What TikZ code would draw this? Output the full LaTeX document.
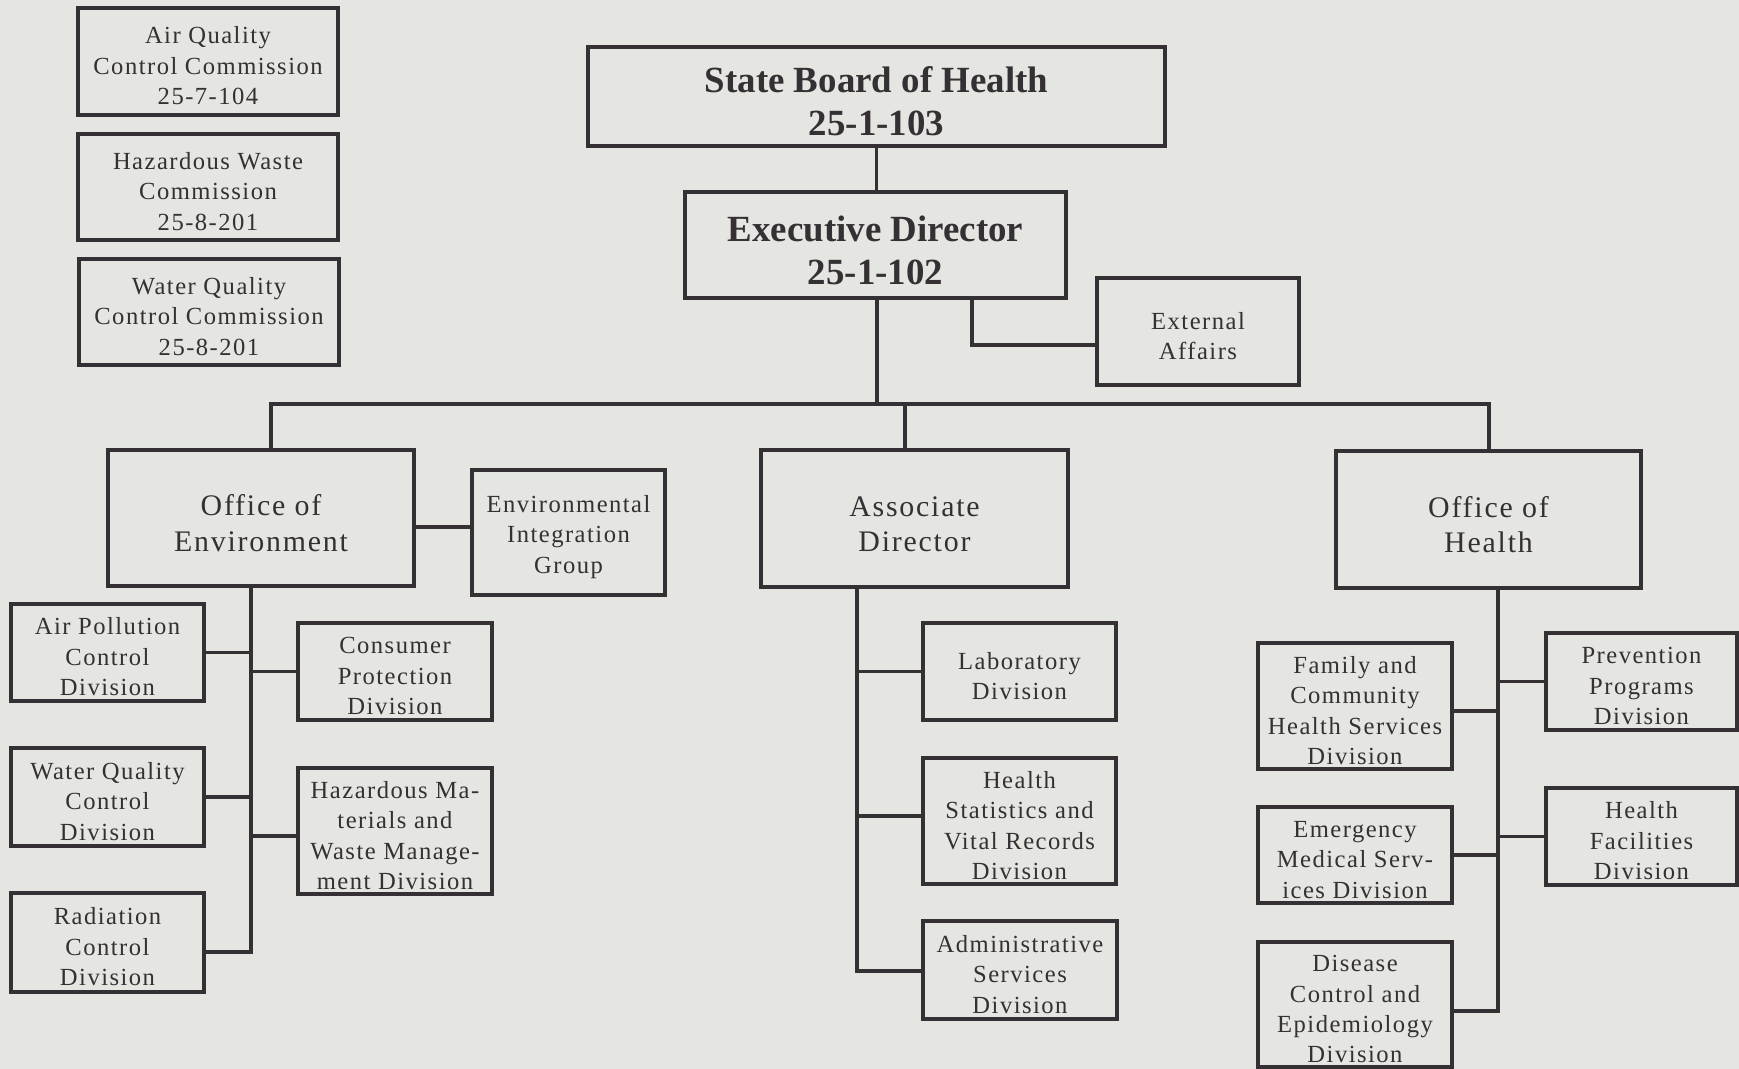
\documentclass[tikz,border=0pt]{standalone}
\usepackage{fontspec}
\setmainfont{Liberation Serif}[LetterSpace=6]
\usepackage{tikz}
\definecolor{ink}{RGB}{52,48,51}
\definecolor{paper}{RGB}{229,229,225}
\tikzstyle{every node}=[draw=ink,line width=1.9pt,text=ink,align=center,inner sep=0pt]
\tikzset{
    board/.style={
                font=\fontsize{21}{24.5}\selectfont\bfseries\addfontfeature{LetterSpace=0},
                text height=44.7pt
            },
        office/.style={
                font=\fontsize{17}{20.3}\selectfont,
                text height=38.2pt
            },
        division/.style={
                font=\fontsize{14}{17.3}\selectfont
            },
        lines2/.style={text height=32pt},
        lines3/.style={text height=49.3pt},
        lines4/.style={text height=66.6pt},
        link/.style={
                draw=ink,
                line width=1.8pt
            },
}
\begin{document}
\begin{tikzpicture}[x=0.02cm,y=-0.02cm]
  % Paper
  \fill[paper] (0,0) rectangle (1739,1069);
  % Commissions
  \node[division,lines3,minimum width=5.2cm,minimum height=2.14cm] (aqcc) at (208,61.5) {Air Quality\\Control Commission\\25-7-104};
  \node[division,lines3,minimum width=5.2cm,minimum height=2.12cm] (hwc) at (208,187) {Hazardous Waste\\Commission\\25-8-201};
  \node[division,lines3,minimum width=5.2cm,minimum height=2.12cm] (wqcc) at (209,312) {Water Quality\\Control Commission\\25-8-201};
  % Board and Director
  \node[board,minimum width=11.54cm,minimum height=1.98cm] (board) at (876.5,96.5) {State Board of Health\\25-1-103};
  \node[board,minimum width=7.62cm,minimum height=2.12cm] (exec) at (875.5,245) {Executive Director\\25-1-102};
  \node[division,lines2,minimum width=4.04cm,minimum height=2.14cm] (extaff) at (1198,331.5) {External\\Affairs};
  % Offices
  \node[office,minimum width=6.12cm,minimum height=2.72cm] (offenv) at (261,518) {Office of\\Environment};
  \node[division,lines3,minimum width=3.86cm,minimum height=2.5cm] (eig) at (568.5,532.5) {Environmental\\Integration\\Group};
  \node[office,minimum width=6.14cm,minimum height=2.74cm] (assoc) at (914.5,518.5) {Associate\\Director};
  \node[office,minimum width=6.1cm,minimum height=2.74cm] (offhealth) at (1488.5,519.5) {Office of\\Health};
  % Environment divisions
  \node[division,lines3,minimum width=3.86cm,minimum height=1.94cm] (airpol) at (107.5,652.5) {Air Pollution\\Control\\Division};
  \node[division,lines3,minimum width=3.88cm,minimum height=1.94cm] (consumer) at (395,671.5) {Consumer\\Protection\\Division};
  \node[division,lines3,minimum width=3.86cm,minimum height=1.96cm] (wqdiv) at (107.5,797) {Water Quality\\Control\\Division};
  \node[division,lines4,minimum width=3.88cm,minimum height=2.52cm] (hazmat) at (395,831) {Hazardous Ma-\\terials and\\Waste Manage-\\ment Division};
  \node[division,lines3,minimum width=3.86cm,minimum height=1.98cm] (radiation) at (107.5,942.5) {Radiation\\Control\\Division};
  % Associate divisions
  \node[division,lines2,minimum width=3.86cm,minimum height=1.94cm] (lab) at (1019.5,671.5) {Laboratory\\Division};
  \node[division,lines4,minimum width=3.86cm,minimum height=2.52cm] (healthstat) at (1019.5,821) {Health\\Statistics and\\Vital Records\\Division};
  \node[division,lines3,minimum width=3.88cm,minimum height=1.96cm] (admin) at (1020,970) {Administrative\\Services\\Division};
  % Health divisions
  \node[division,lines4,minimum width=3.88cm,minimum height=2.52cm] (family) at (1355,706) {Family and\\Community\\Health Services\\Division};
  \node[division,lines3,minimum width=3.88cm,minimum height=1.92cm] (ems) at (1355,855) {Emergency\\Medical Serv-\\ices Division};
  \node[division,lines4,minimum width=3.88cm,minimum height=2.5cm] (disease) at (1355,1004.5) {Disease\\Control and\\Epidemiology\\Division};
  \node[division,lines3,minimum width=3.82cm,minimum height=1.94cm] (prevention) at (1641.5,681.5) {Prevention\\Programs\\Division};
  \node[division,lines3,minimum width=3.82cm,minimum height=1.94cm] (facilities) at (1641.5,836.5) {Health\\Facilities\\Division};
  % Junctions
  \coordinate (bus) at (877,404);
  \coordinate (busL) at (271,404);
  \coordinate (busA) at (905,404);
  \coordinate (busR) at (1489,404);
  \coordinate (ext) at (972,345);
  \coordinate (eigline) at (0,527);
  \coordinate (envspine) at (251,952);
  \coordinate (adspine) at (857,971);
  \coordinate (ohspine) at (1498,1011);
  % Top connectors
  \draw[link] (board.south) -- (board.south |- exec.north);
  \draw[link] (exec.south -| bus) -- (bus);
  \draw[link] (ext |- exec.south) -- (ext) -- (ext -| extaff.west);
  \draw[link] (busL |- offenv.north) -- (busL) -- (busR) -- (busR |- offhealth.north);
  \draw[link] (busA) -- (busA |- assoc.north);
  \draw[link] (offenv.east |- eigline) -- (eig.west |- eigline);
  % Environment branches
  \draw[link] (envspine |- offenv.south) -- (envspine) -- (envspine -| radiation.east);
  \draw[link] (airpol.east) -- (airpol.east -| envspine);
  \draw[link] (consumer.west) -- (consumer.west -| envspine);
  \draw[link] (wqdiv.east) -- (wqdiv.east -| envspine);
  \draw[link] ([yshift=-0.1cm]hazmat.west) -- ([yshift=-0.1cm]hazmat.west -| envspine);
  % Associate branches
  \draw[link] (adspine |- assoc.south) -- (adspine) -- (adspine -| admin.west);
  \draw[link] (lab.west) -- (lab.west -| adspine);
  \draw[link] ([yshift=0.1cm]healthstat.west) -- ([yshift=0.1cm]healthstat.west -| adspine);
  % Health branches
  \draw[link] (ohspine |- offhealth.south) -- (ohspine) -- (ohspine -| disease.east);
  \draw[link] ([yshift=-0.1cm]family.east) -- ([yshift=-0.1cm]family.east -| ohspine);
  \draw[link] (ems.east) -- (ems.east -| ohspine);
  \draw[link] (prevention.west) -- (prevention.west -| ohspine);
  \draw[link] (facilities.west) -- (facilities.west -| ohspine);
\end{tikzpicture}
\end{document}
